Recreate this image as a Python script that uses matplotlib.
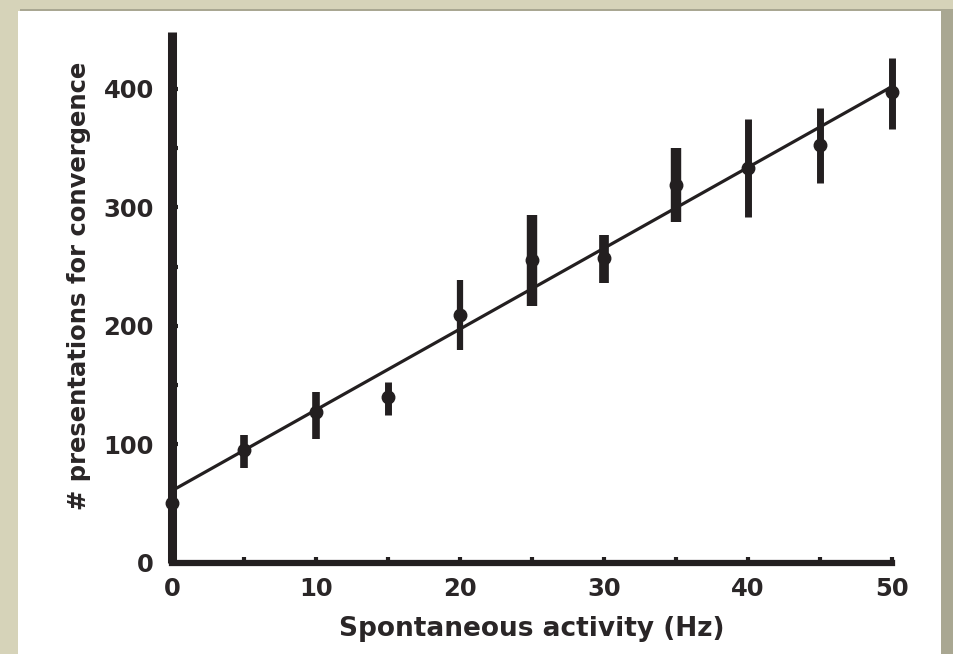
import matplotlib
matplotlib.use("Agg")
import matplotlib.pyplot as plt
from matplotlib.patches import Rectangle
import numpy as np

# ---- data ----
rate_hz = [0, 5, 10, 15, 20, 25, 30, 35, 40, 45, 50]
presentations = [51, 95, 127, 140, 209, 256, 257, 319, 333, 353, 397]
err_low = [45, 80, 105, 125, 180, 217, 236, 288, 292, 321, 366]
err_high = [57, 108, 144, 153, 239, 294, 277, 350, 375, 384, 426]
fit_intercept = 61
fit_slope = 6.82
x_ticks = [0, 10, 20, 30, 40, 50]
y_ticks = [0, 100, 200, 300, 400]

# ---- style ----
bar_widths = [4.5, 5.5, 5.5, 5, 4.5, 7.5, 7, 7.5, 5, 5, 5]
ink = "#231f20"
text_ink = "#2a2627"

plt.rcParams['font.family'] = ['DejaVu Sans']
plt.rcParams['font.weight'] = 'bold'

fig = plt.figure(figsize=(9.54, 6.54), dpi=100)
fig.patch.set_facecolor("#d6d3b9")
# shadow + white panel
fig.add_artist(Rectangle((20 / 954, 0), 1, 1 - 9 / 654, transform=fig.transFigure,
                         facecolor="#a9a792", edgecolor="none", zorder=0))
fig.add_artist(Rectangle((18 / 954, 0), 923 / 954, 1 - 11 / 654, transform=fig.transFigure,
                         facecolor="white", edgecolor="none", zorder=0))

ax = fig.add_axes([172 / 954, 1 - 563 / 654, (892 - 172) / 954, (563 - 32) / 654])
ax.set_facecolor("none")
ax.set_xlim(0, 50)
ax.set_ylim(0, 448)

for s in ["top", "right"]:
    ax.spines[s].set_visible(False)
ax.spines["left"].set_linewidth(6.5)
ax.spines["bottom"].set_linewidth(4.5)
ax.spines["left"].set_color(ink)
ax.spines["bottom"].set_color(ink)
ax.spines["left"].set_capstyle("butt")

# fit line
xs = np.array([0, 50])
ax.plot(xs, fit_intercept + fit_slope * xs, color=ink, lw=2.3, zorder=3, clip_on=False,
        solid_capstyle="butt")

# error bars and points
for x, y, lo, hi, w in zip(rate_hz, presentations, err_low, err_high, bar_widths):
    ax.vlines(x, lo, hi, color=ink, lw=w, zorder=4, clip_on=False)
ax.plot(rate_hz, presentations, 'o', color=ink, ms=9, zorder=5, clip_on=False)

ax.set_xticks(x_ticks)
ax.set_xticks([5, 15, 25, 35, 45], minor=True)
ax.set_yticks(y_ticks)
ax.set_yticks([50, 150, 250, 350], minor=True)
ax.tick_params(which="both", direction="in", length=4, width=3, color=ink,
               labelsize=17.5, labelcolor=text_ink)
ax.tick_params(axis="y", which="major", pad=13)
ax.tick_params(axis="x", which="major", pad=10)

ax.set_xlabel("Spontaneous activity (Hz)", fontsize=19, fontweight="bold", color=text_ink, labelpad=11)
ax.set_ylabel("# presentations for convergence", fontsize=17.5, fontweight="bold", color=text_ink, labelpad=9)
ax.yaxis.label.set_y(0.5 + 12 / 531)

fig.savefig("out.png", dpi=100, facecolor=fig.get_facecolor())
